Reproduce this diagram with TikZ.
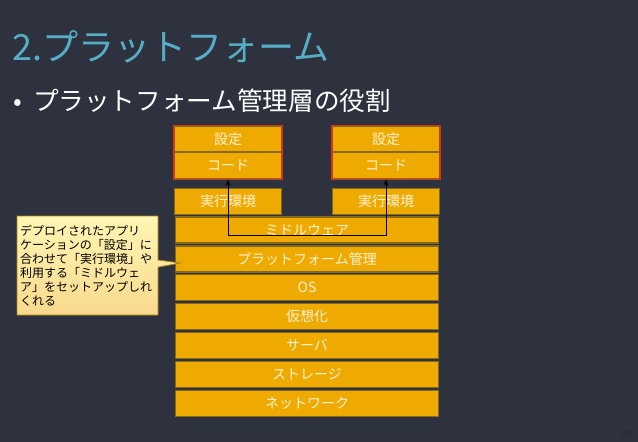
\documentclass[tikz,border=0pt]{standalone}
\usepackage{fontspec}
\setmainfont{Noto Sans CJK JP}
\usetikzlibrary{arrows.meta,shapes.callouts}
\definecolor{bg}{HTML}{2D323E}
\definecolor{titleblue}{HTML}{56AEC6}
\definecolor{gold}{HTML}{EFAA00}
\definecolor{goldedge}{HTML}{86691A}
\definecolor{redge}{HTML}{D2361A}
\definecolor{cream}{HTML}{FFF3D6}
\tikzset{
  layer/.style={draw=goldedge, line width=1.3pt, fill=gold, text=cream,
    font=\fontsize{14}{16}\selectfont, inner sep=0pt, minimum height=26pt},
  wide/.style={layer, minimum width=263pt},
  narrow/.style={layer, minimum width=107pt},
  redbox/.style={draw=redge, line width=1.6pt},
  link/.style={draw=black, line width=1pt, {Stealth[length=6pt,width=5pt]}-{Stealth[length=6pt,width=5pt]}},
  note/.style={rectangle callout, draw=goldedge!60!gold, line width=0.8pt,
    top color=cream!80!yellow!90!white, bottom color=gold!45!white,
    text=black, font=\fontsize{12}{14}\selectfont, align=left,
    minimum width=141pt, minimum height=99pt, inner xsep=3pt, inner ysep=4pt, text width=135pt}
}
\begin{document}
\begin{tikzpicture}[x=1pt,y=-1pt]
\fill[bg] (0,0) rectangle (638,442);
\useasboundingbox (0,0) rectangle (638,442);
% title
\node[anchor=base west, inner sep=0pt, text=titleblue, font=\fontsize{36}{38}\selectfont] (title) at (12,60) {2.プラットフォーム};
\node[anchor=base west, inner sep=0pt, text=white, font=\fontsize{25.6}{28}\selectfont] (bullet) at (13,110) {\makebox[20pt][l]{•}プラットフォーム管理層の役割};
% top boxes
\node[narrow, minimum height=26pt] (set1) at (228,139) {設定};
\node[narrow, minimum height=27pt] (code1) at (228,165.5) {コード};
\node[narrow, minimum height=26pt] (set2) at (386,139) {設定};
\node[narrow, minimum height=27pt] (code2) at (386,165.5) {コード};
\draw[redbox] (set1.north west) rectangle (code1.south east);
\draw[redbox] (set2.north west) rectangle (code2.south east);
% runtime
\node[narrow] (rt1) at (228,201.5) {実行環境};
\node[narrow] (rt2) at (386,201.5) {実行環境};
% stacked layers
\node[wide] (mw) at (307,230) {ミドルウェア};
\node[wide] (pf) at (307,259) {プラットフォーム管理};
\node[wide] (os) at (307,287.5) {OS};
\node[wide] (virt) at (307,316.5) {仮想化};
\node[wide] (srv) at (307,345.5) {サーバ};
\node[wide] (stor) at (307,374.5) {ストレージ};
\node[wide] (net) at (307,403.5) {ネットワーク};
% arrow
\coordinate (turn) at (228,235);
\draw[link] (code1.south) -- (code1.south |- turn) -| (code2.south);
% callout
\node[note, callout absolute pointer={(180,263)}] (callout) at (87.5,265.5)
  {デプロイされたアプリ\\ケーションの「設定」に\\合わせて「実行環境」や\\利用する「ミドルウェ\\ア」をセットアップしれ\\くれる};
% page number
\node[anchor=base east, inner sep=0pt, text=black!85, font=\fontsize{8}{9}\selectfont] (page) at (631,436) {29};
\end{tikzpicture}
\end{document}
